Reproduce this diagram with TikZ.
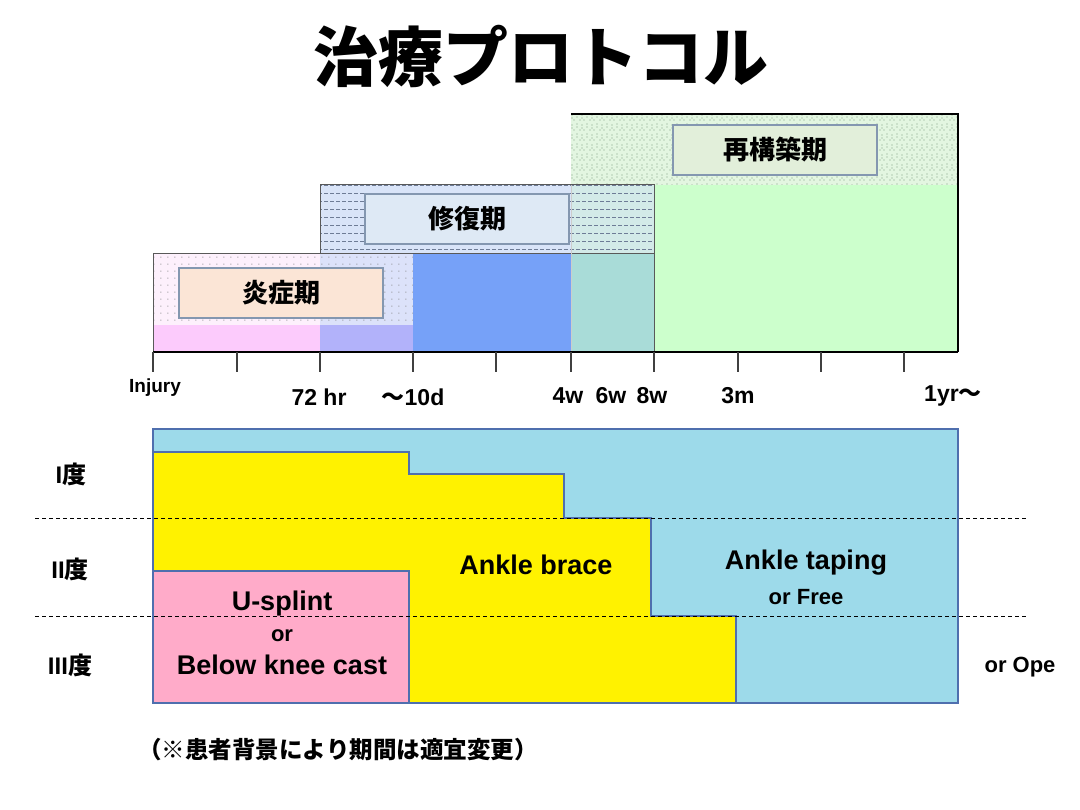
\documentclass[tikz,border=0pt]{standalone}
\usepackage{fontspec}
\setmainfont{Liberation Sans}
\newfontfamily\jp{Noto Sans CJK JP}
\usetikzlibrary{patterns}

\definecolor{inftop}{HTML}{FDF0FC}
\definecolor{infpink}{HTML}{FCCBFC}
\definecolor{ovtop}{HTML}{DCE2FA}
\definecolor{ovpurple}{HTML}{B2B2FA}
\definecolor{reptop}{HTML}{D9E4F8}
\definecolor{reptopb}{HTML}{D3EAE8}
\definecolor{repblue}{HTML}{76A1F8}
\definecolor{repteal}{HTML}{A9DCD8}
\definecolor{remodtop}{HTML}{E3F6E1}
\definecolor{remodfill}{HTML}{CCFFCC}
\definecolor{remoddot}{HTML}{7E9E7E}
\definecolor{dashcol}{HTML}{6E7C96}
\definecolor{infbox}{HTML}{FBE5D6}
\definecolor{repbox}{HTML}{DEE9F5}
\definecolor{remodbox}{HTML}{E2EFDA}
\definecolor{boxline}{HTML}{8497B0}
\definecolor{chartline}{HTML}{4F6FAE}
\definecolor{tapeblue}{HTML}{9DDAEA}
\definecolor{braceyellow}{HTML}{FFF200}
\definecolor{splintpink}{HTML}{FFABC9}

\pgfdeclarepatternformonly{sparse dots}{\pgfqpoint{-1pt}{-1pt}}{\pgfqpoint{6pt}{6pt}}{\pgfqpoint{7pt}{7pt}}{%
  \pgfpathcircle{\pgfqpoint{0pt}{0pt}}{0.6pt}\pgfusepath{fill}}
\pgfdeclarepatternformonly{dash rows}{\pgfqpoint{0pt}{-1pt}}{\pgfqpoint{6pt}{7pt}}{\pgfqpoint{6pt}{8pt}}{%
  \pgfpathrectangle{\pgfqpoint{0pt}{-0.5pt}}{\pgfqpoint{3.5pt}{1pt}}\pgfusepath{fill}}
\pgfdeclarepatternformonly{remod cells}{\pgfqpoint{-1pt}{-1pt}}{\pgfqpoint{9pt}{9pt}}{\pgfqpoint{10pt}{10pt}}{%
  \pgfpathcircle{\pgfqpoint{0pt}{0pt}}{0.7pt}
  \pgfpathcircle{\pgfqpoint{2pt}{2pt}}{0.7pt}
  \pgfpathcircle{\pgfqpoint{4pt}{0pt}}{0.7pt}
  \pgfpathcircle{\pgfqpoint{2pt}{5pt}}{0.7pt}
  \pgfpathcircle{\pgfqpoint{7pt}{6pt}}{0.7pt}
  \pgfpathcircle{\pgfqpoint{7pt}{3pt}}{0.7pt}
  \pgfusepath{fill}}

\newcommand{\fs}[1]{\fontsize{#1}{#1}\selectfont}

\begin{document}
\begin{tikzpicture}[x=1pt,y=-1pt,
    phase/.style={draw=boxline, line width=1.3pt, minimum width=204pt, minimum height=50pt, inner sep=0pt, font=\jp\bfseries\fs{26}},
    axlbl/.style={font=\bfseries\fs{23}, inner sep=0pt},
    grade/.style={font=\bfseries\fs{24}, inner sep=0pt},
    big/.style={font=\bfseries\fs{27}, inner sep=0pt},
    small/.style={font=\bfseries\fs{22}, inner sep=0pt}]
\useasboundingbox (0,0) rectangle (1080,810);

\node[font=\jp\bfseries\fs{65}, inner sep=0pt] (title) at (541,57) {治療プロトコル};

% remodelling phase
\fill[remodtop] (571,114) rectangle (958,185);
\fill[pattern=remod cells, pattern color=remoddot] (571,114) rectangle (958,185);
\fill[remodfill] (654,185) rectangle (958,352);
% repair phase
\fill[reptop] (320,185) rectangle (571,254);
\fill[reptopb] (571,185) rectangle (654,254);
\fill[pattern=dash rows, pattern color=dashcol] (320,185) rectangle (654,254);
\fill[repblue] (413,254) rectangle (571,352);
\fill[repteal] (571,254) rectangle (654,352);
% inflammation phase
\fill[inftop] (153,254) rectangle (320,325);
\fill[ovtop] (320,254) rectangle (413,325);
\fill[pattern=sparse dots, pattern color=gray] (153,254) rectangle (413,325);
\fill[infpink] (153,325) rectangle (320,352);
\fill[ovpurple] (320,325) rectangle (413,352);

\draw[gray!70!black, line width=1pt] (153,352) -- (153,254) -- (654,254);
\draw[gray!70!black, line width=1pt] (320,254) -- (320,185) -- (654,185) -- (654,352);
\draw[gray!40, line width=1pt] (571,185) -- (571,352);
\draw[line width=2pt] (571,114) -- (958,114) -- (958,352);

\node[phase, fill=infbox] (inflam) at (281,293) {炎症期};
\node[phase, fill=repbox] (repair) at (467,219) {修復期};
\node[phase, fill=remodbox] (remodel) at (775,150) {再構築期};

% time axis
\draw[line width=2pt] (153,352) -- (958,352);
\foreach \x in {153,237,320,413,496,571,654,738,821,904}
  \draw[line width=1.5pt, black!75] (\x,352) -- (\x,372);

\node[axlbl, font=\bfseries\fs{19}] (t0) at (155,388) {Injury};
\node[axlbl] (t72) at (319,397) {72 hr};
\node[axlbl] (t10) at (413,397) {{\jp ～}10d};
\node[axlbl] (t4w) at (568,396) {4w};
\node[axlbl] (t6w) at (611,396) {6w};
\node[axlbl] (t8w) at (652,396) {8w};
\node[axlbl] (t3m) at (738,396) {3m};
\node[axlbl] (t1y) at (953,396) {1yr{\jp ～}};

% treatment by grade
\draw[chartline, line width=1.5pt, fill=tapeblue] (153,429) rectangle (958,703);
\draw[chartline, line width=1.5pt, fill=braceyellow] (153,703) -- (153,452) -- (409,452) -- (409,474)
  -- (564,474) -- (564,518) -- (651,518) -- (651,616) -- (736,616) -- (736,703) -- cycle;
\draw[chartline, line width=1.5pt, fill=splintpink] (153,571) rectangle (409,703);
\draw[dash pattern=on 4pt off 3pt, line width=0.8pt] (35,518) -- (1027,518);
\draw[dash pattern=on 4pt off 3pt, line width=0.8pt] (35,616) -- (1027,616);

\node[grade] (g1) at (71,474) {I{\jp 度}};
\node[grade] (g2) at (70,569) {II{\jp 度}};
\node[grade] (g3) at (70,665) {III{\jp 度}};

\node[big] (brace) at (536,565) {Ankle brace};
\node[big] (tape) at (806,563) {Ankle taping};
\node[small] (free) at (806,597) {or Free};
\node[big] (splint) at (282,604) {U-splint};
\node[small] (or) at (282,636) {or};
\node[big] (cast) at (282,665) {Below knee cast};
\node[small] (ope) at (1020,667) {or Ope};

\node[font=\jp\bfseries\fs{23.5}, inner sep=0pt] (note) at (338,750) {（※患者背景により期間は適宜変更）};
\end{tikzpicture}
\end{document}
